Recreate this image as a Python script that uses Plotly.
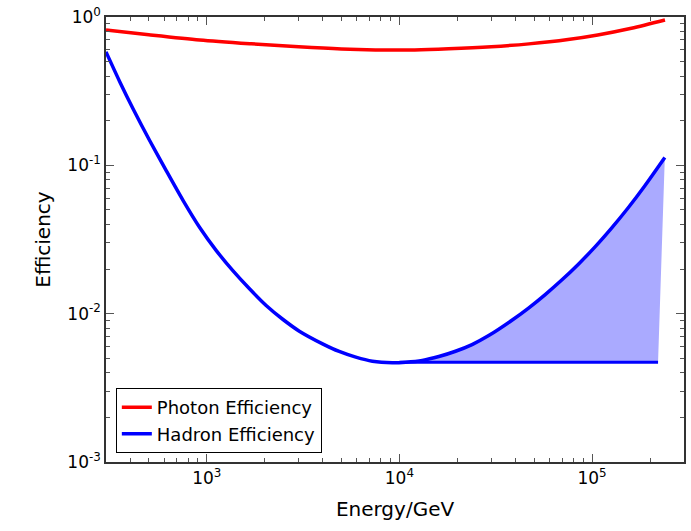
import plotly.graph_objects as go

# Photon efficiency (red)
photon_E = [300, 500, 919, 1700, 3000, 5000, 7500, 12000, 18000, 30000, 47000, 75000, 107000, 160000, 239000]
photon_eff = [0.818, 0.760, 0.701, 0.660, 0.629, 0.608, 0.600, 0.600, 0.610, 0.630, 0.659, 0.705, 0.757, 0.840, 0.955]

# Hadron efficiency (blue)
hadron_E = [300, 354, 415, 507, 618, 753, 919, 1121, 1366, 1667, 2034, 2479, 3024,
            3992, 4869, 5940, 7238, 9189, 10780, 13140, 16020, 19550, 23820, 29070,
            38370, 46810, 57110, 69580, 84920, 103600, 126200, 154000, 187900, 238500]
hadron_eff = [0.582, 0.3651, 0.2399, 0.1459, 0.0914, 0.05804, 0.03807, 0.02661, 0.0195,
              0.01471, 0.01136, 0.00917, 0.00762, 0.00626, 0.00556, 0.00509, 0.00478,
              0.00467, 0.00471, 0.00484, 0.00514, 0.00558, 0.00619, 0.00712, 0.00903,
              0.01091, 0.01345, 0.01685, 0.02157, 0.02819, 0.03772, 0.05173, 0.07283, 0.1129]

# Horizontal floor level
floor_E = [10000, 220000]
floor_eff = [0.00471, 0.00471]

# Shaded region (curve above floor)
fill_start = 18
fill_x = hadron_E[fill_start:] + floor_E[::-1]
fill_y = hadron_eff[fill_start:] + floor_eff[::-1]

# Tick labels
x_tickvals = [1e3, 1e4, 1e5]
x_ticktext = ["10<sup>3</sup>", "10<sup>4</sup>", "10<sup>5</sup>"]
y_tickvals = [1e-3, 1e-2, 1e-1, 1]
y_ticktext = ["10<sup>-3</sup>", "10<sup>-2</sup>", "10<sup>-1</sup>", "10<sup>0</sup>"]
x_minor = [m * 10 ** d for d in range(2, 6) for m in range(2, 10)]
y_minor = [m * 10.0 ** d for d in range(-3, 0) for m in range(2, 10)]

fig = go.Figure()
fig.add_trace(go.Scatter(x=fill_x, y=fill_y, mode="lines", fill="toself",
                         fillcolor="#aaaaff", line=dict(width=0),
                         showlegend=False, hoverinfo="skip"))
fig.add_trace(go.Scatter(x=floor_E, y=floor_eff, mode="lines",
                         line=dict(color="#0000ff", width=3), showlegend=False))
fig.add_trace(go.Scatter(x=photon_E, y=photon_eff, mode="lines",
                         line=dict(color="#ff0000", width=3.5, shape="spline", smoothing=0.8),
                         name="Photon Efficiency"))
fig.add_trace(go.Scatter(x=hadron_E, y=hadron_eff, mode="lines",
                         line=dict(color="#0000ff", width=3.5, shape="spline", smoothing=0.8),
                         name="Hadron Efficiency"))

axis_common = dict(type="log", showgrid=False, zeroline=False, showline=True,
                   linecolor="#333333", linewidth=1.5, mirror="ticks",
                   ticks="inside", ticklen=8, tickcolor="#555555",
                   tickmode="array",
                   tickfont=dict(family="DejaVu Sans", size=17, color="black"))

fig.update_xaxes(range=[2.4771, 5.4771], tickvals=x_tickvals, ticktext=x_ticktext,
                 minor=dict(ticks="inside", ticklen=4, tickcolor="#555555", tickvals=x_minor),
                 title=dict(text="Energy/GeV",
                            font=dict(family="DejaVu Sans", size=20, color="black"), standoff=15),
                 **axis_common)
fig.update_yaxes(range=[-3, 0], tickvals=y_tickvals, ticktext=y_ticktext,
                 minor=dict(ticks="inside", ticklen=4, tickcolor="#555555", tickvals=y_minor),
                 title=dict(text="Efficiency",
                            font=dict(family="DejaVu Sans", size=20, color="black"), standoff=11),
                 **axis_common)

fig.update_layout(
    width=691, height=531,
    margin=dict(l=106, r=5, t=15, b=69),
    paper_bgcolor="white", plot_bgcolor="white",
    font=dict(family="DejaVu Sans", color="black"),
    legend=dict(x=0.017, y=0.02, xanchor="left", yanchor="bottom",
                bgcolor="white", bordercolor="black", borderwidth=1,
                font=dict(family="DejaVu Sans", size=18, color="black"),
                itemwidth=30, tracegroupgap=2),
)

fig.write_html("out.html")
